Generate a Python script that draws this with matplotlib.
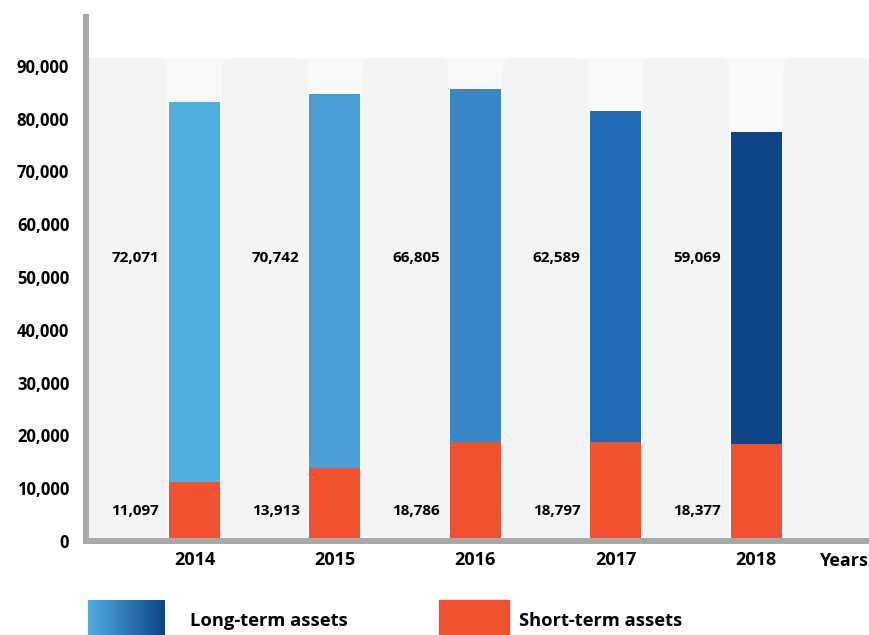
import matplotlib.pyplot as plt
import numpy as np
from matplotlib.patches import FancyBboxPatch, Rectangle
from matplotlib.colors import LinearSegmentedColormap

years = ['2014', '2015', '2016', '2017', '2018']
long_term = [72071, 70742, 66805, 62589, 59069]
short_term = [11097, 13913, 18786, 18797, 18377]
long_colors = ['#4fade0', '#4a9ed6', '#3987c8', '#226ab3', '#0e4587']
short_color = '#f0512f'
y_ticks = [0, 10000, 20000, 30000, 40000, 50000, 60000, 70000, 80000, 90000]

plt.rcParams['font.family'] = ['Open Sans', 'DejaVu Sans']
plt.rcParams['font.weight'] = 'bold'

fig = plt.figure(figsize=(8.69, 6.35), dpi=100)
ax = fig.add_axes([86 / 869, 94 / 635, 783 / 869, 524 / 635])

x = np.arange(len(years))
bar_w = 0.363
ax.set_xlim(-0.773, 4.804)
ax.set_ylim(0, 99242)

# sfondo: area chiara + pannelli arrotondati tra le barre
ax.add_patch(Rectangle((-0.773, 0), 5.577, 91477, color='#f8f9f9', zorder=0, lw=0))
for i in range(len(years) + 1):
    ax.add_patch(FancyBboxPatch((i - 0.5 - 0.305 + 0.07, 0 + 1900), 0.61 - 0.14, 91477 - 3800,
                                boxstyle='round,pad=0.07', mutation_aspect=26591,
                                color='#f2f4f3', lw=0, zorder=1))

ax.bar(x, short_term, bar_w, color=short_color, zorder=3)
ax.bar(x, long_term, bar_w, bottom=short_term, color=long_colors, zorder=3)

for i in range(len(years)):
    ax.annotate(f'{long_term[i]:,}', (i - bar_w / 2, 53600), xytext=(-7, 0),
                textcoords='offset points', ha='right', va='center', fontsize=11, fontweight='bold')
    ax.annotate(f'{short_term[i]:,}', (i - bar_w / 2, 5700), xytext=(-7, 0),
                textcoords='offset points', ha='right', va='center', fontsize=11, fontweight='bold')

for s in ['top', 'right']:
    ax.spines[s].set_visible(False)
for s in ['left', 'bottom']:
    ax.spines[s].set_color('#a7a8ab')
    ax.spines[s].set_linewidth(4.3)
    ax.spines[s].set_zorder(4)

ax.set_yticks(y_ticks)
ax.set_yticklabels([f'{v:,}' for v in y_ticks], fontsize=12, fontweight='bold')
ax.set_xticks(x)
ax.set_xticklabels(years, fontsize=13, fontweight='bold')
ax.tick_params(axis='y', length=0, pad=12)
ax.tick_params(axis='x', length=0, pad=7)

fig.text(0.999, 1 - 561 / 635, 'Years', ha='right', va='center', fontsize=13, fontweight='bold')

# legenda
lax = fig.add_axes([88 / 869, 0, 77 / 869, 35 / 635])
cmap = LinearSegmentedColormap.from_list('lt', ['#4fade0', '#0e4587'])
lax.imshow(np.linspace(0, 1, 100).reshape(1, -1), aspect='auto', cmap=cmap)
lax.axis('off')
fig.patches.append(Rectangle((439 / 869, 0), 70 / 869, 35 / 635, color=short_color,
                             transform=fig.transFigure, figure=fig))
fig.text(190 / 869, 1 - 621 / 635, 'Long-term assets', ha='left', va='center', fontsize=13.2, fontweight='bold')
fig.text(519 / 869, 1 - 621 / 635, 'Short-term assets', ha='left', va='center', fontsize=13.2, fontweight='bold')

fig.savefig('out.png', dpi=100)
